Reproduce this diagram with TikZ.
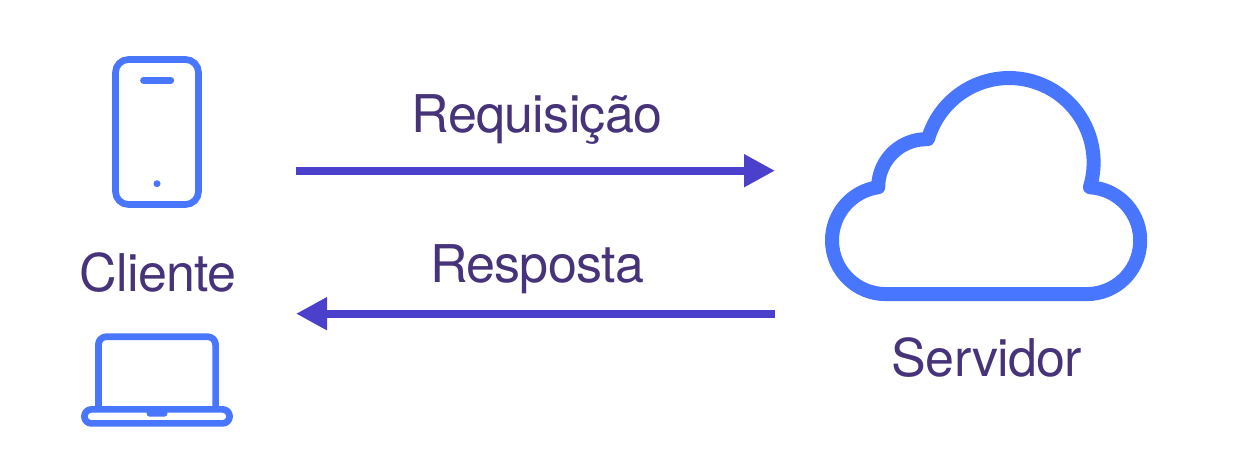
\documentclass[tikz,border=0pt]{standalone}
\usepackage{fontspec}
\setmainfont{TeX Gyre Heros}
\newfontfamily\lblfont[LetterSpace=-1.4]{TeX Gyre Heros}
\usepackage{tikz}
\usetikzlibrary{arrows.meta,positioning}
\definecolor{iconblue}{HTML}{4876FF}
\definecolor{arrowblue}{HTML}{4A40CC}
\definecolor{labelpurple}{HTML}{46337A}
\tikzset{
  icon/.style={draw=iconblue,line width=6.7pt,line join=round},
  iconbox/.style={icon,rectangle,outer sep=0pt,inner sep=0pt},
  cloudline/.style={icon,line width=14pt},
  lbl/.style={text=labelpurple,font=\lblfont\fontsize{52}{60}\selectfont,anchor=base,inner sep=0pt},
  ar/.style={-{Triangle[length=31pt,width=31pt]},draw=arrowblue,line width=8pt},
}

\begin{document}
\begin{tikzpicture}[x=1pt,y=1pt]
  \useasboundingbox[fill=white] (0,0) rectangle (1233,468);

  % phone
  \node[iconbox,rounded corners=13pt,minimum width=83pt,minimum height=145pt] (phone) at (157,336) {};
  \draw[icon,line cap=round] (143.5,387.8) -- (170.8,387.8);
  \fill[iconblue] (157,284.3) circle (3.5pt);

  % laptop
  \node[iconbox,rounded corners=7pt,minimum width=145.2pt,minimum height=14pt] (laptop) at (157,51.6) {};
  \draw[icon,rounded corners=8pt] (98.4,59) |- (215.6,131.3) -- (215.6,59);
  \fill[iconblue,rounded corners=3pt] (146.7,59) -- (146.7,51.3) -- (167.3,51.3) -- (167.3,59) -- cycle;

  % cloud
  \draw[cloudline] (885.7,173.9) arc[start angle=270,end angle=98,radius=53.7]
    arc[start angle=180,end angle=88,radius=48]
    arc[start angle=164,end angle=-17,radius=84.5]
    arc[start angle=86.6,end angle=-90,radius=53.47] -- cycle;

  \node[lbl] (cliente) at (158,176.3) {Cliente};
  \node[lbl] (servidor) at (987,91) {Servidor};
  \node[lbl] (requisicao) at (537,335) {Requisição};
  \node[lbl] (resposta) at (537,185) {Resposta};

  \coordinate (reqa) at (296,297.3);
  \coordinate (reqb) at (775,297.3);
  \coordinate (resa) at (775,154.3);
  \coordinate (resb) at (296,154.3);
  \draw[ar] (reqa) -- (reqb);
  \draw[ar] (resa) -- (resb);
\end{tikzpicture}
\end{document}
